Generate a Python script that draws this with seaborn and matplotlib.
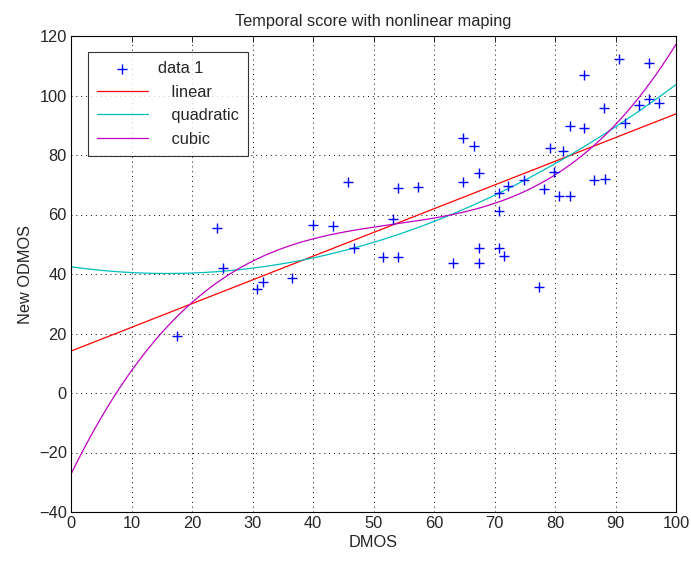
import numpy as np
import pandas as pd
import matplotlib
matplotlib.use("Agg")
import matplotlib.pyplot as plt
import seaborn as sns

sns.set_style("white")
plt.rcParams['font.family'] = ['Liberation Sans', 'DejaVu Sans']

dmos = [17.5, 24.2, 25.1, 30.8, 31.7, 36.6, 40.0, 43.3, 45.8, 46.7,
        51.6, 54.0, 53.3, 54.1, 57.4, 63.2, 64.8, 66.6, 64.8, 67.4,
        67.4, 67.4, 70.7, 71.6, 70.7, 70.7, 72.3, 74.9, 77.4, 78.2,
        79.1, 79.8, 80.7, 82.4, 81.4, 82.4, 84.8, 88.1, 86.4, 88.2,
        91.6, 93.9, 97.2, 95.6, 84.8, 90.6, 95.6]
odmos = [19.3, 55.4, 42.1, 35.0, 37.2, 38.6, 56.6, 56.2, 71.0, 48.7,
         45.6, 45.6, 58.4, 68.8, 69.1, 43.6, 85.6, 83.1, 71.0, 74.1,
         48.6, 43.8, 48.7, 46.0, 61.3, 67.3, 69.6, 71.6, 35.5, 68.5,
         82.3, 74.4, 66.3, 66.3, 81.5, 89.6, 89.0, 95.8, 71.6, 71.9,
         90.6, 96.9, 97.5, 98.7, 106.9, 112.2, 110.8]

fit_names = ["   linear", "   quadratic", "   cubic"]
fit_degrees = [1, 2, 3]
fit_colors = ["#ff0000", "#00bfbf", "#bf00bf"]

xticks = list(range(0, 101, 10))
yticks = list(range(-40, 121, 20))

FS = 11.8

fig = plt.figure(figsize=(6.91, 5.61), dpi=100)
ax = fig.add_axes([71/691, 49/561, 605/691, 476/561])

df = pd.DataFrame({"DMOS": dmos, "ODMOS": odmos})
sns.scatterplot(data=df, x="DMOS", y="ODMOS", marker="+", color="#0000ff",
                s=55, linewidth=1.0, ax=ax, label="data 1", zorder=3)

xg = np.linspace(0, 100, 400)
for name, deg, col in zip(fit_names, fit_degrees, fit_colors):
    coef = np.polyfit(dmos, odmos, deg)
    sns.lineplot(x=xg, y=np.polyval(coef, xg), color=col, linewidth=0.9,
                 ax=ax, label=name, zorder=2)

ax.set_xlim(0, 100)
ax.set_ylim(-40, 120)
ax.set_xticks(xticks)
ax.set_yticks(yticks)
ax.set_yticklabels([str(t).replace('-', '\u2212') for t in yticks])
ax.grid(True, color="black", linestyle=(0, (1, 4)), linewidth=0.7)
ax.tick_params(direction="in", length=4, top=True, right=True, labelsize=FS,
               width=0.7, pad=3)
for sp in ax.spines.values():
    sp.set_color("black")
    sp.set_linewidth(0.8)
ax.set_xlabel("DMOS", fontsize=FS, labelpad=3)
ax.set_ylabel("New ODMOS", fontsize=FS, labelpad=4)
ax.set_title("Temporal score with nonlinear maping", fontsize=FS, pad=7)

leg = ax.legend(loc="upper left", bbox_to_anchor=(17/605, 1 - 16/476),
                frameon=True, fancybox=False, edgecolor="black",
                fontsize=FS, handlelength=3.1, borderpad=0.55,
                labelspacing=0.52, handletextpad=0.6, borderaxespad=0)
leg.get_frame().set_linewidth(0.8)

fig.savefig("out.png", dpi=100)
